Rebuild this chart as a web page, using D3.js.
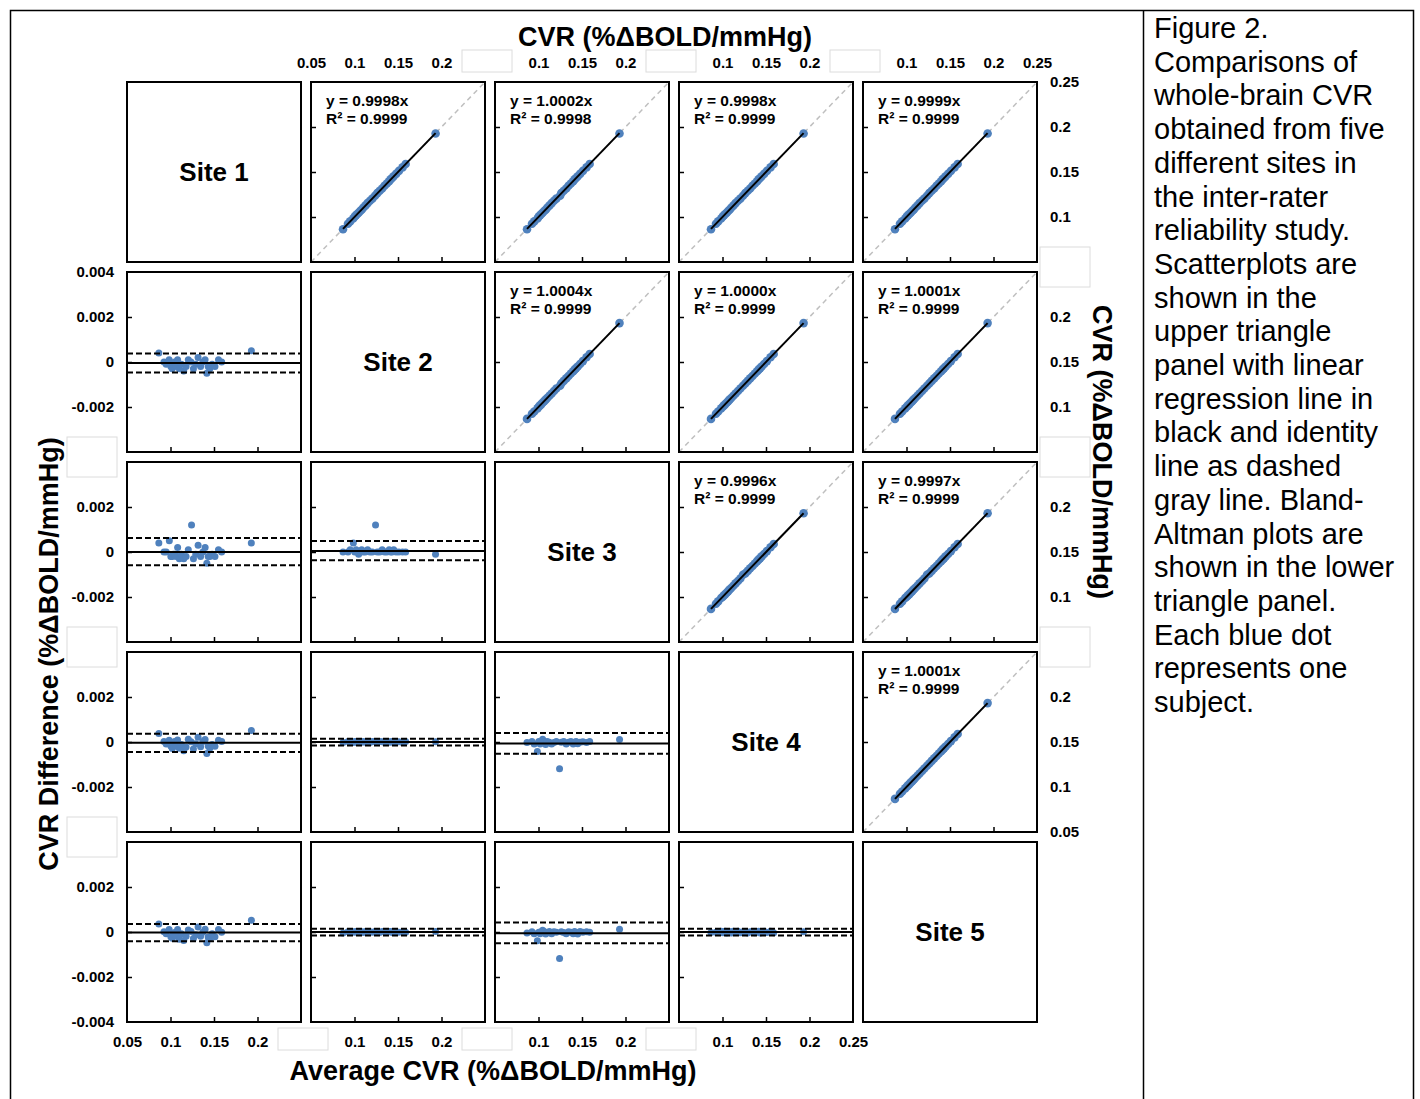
<!DOCTYPE html>
<html>
<head>
<meta charset="utf-8">
<script src="https://cdn.jsdelivr.net/npm/d3@7"></script>
<style>
  body { margin: 0; background: #fff; }
  svg { display: block; font-family: "Liberation Sans", Arial, sans-serif; }
</style>
</head>
<body>
<svg id="fig" width="1420" height="1099"></svg>
<script>
// Whole-brain CVR (%ΔBOLD/mmHg) for each subject, one array per site
const site1 = [0.0864, 0.0925, 0.0951, 0.0984, 0.1005, 0.1021, 0.1033, 0.1048, 0.1067, 0.1081,
               0.1103, 0.1126, 0.1154, 0.1180, 0.1204, 0.1236, 0.1265, 0.1291, 0.1316, 0.1347,
               0.1372, 0.1397, 0.1420, 0.1434, 0.1453, 0.1479, 0.1512, 0.1551, 0.1588, 0.1927];
const site2 = [0.0868, 0.0925, 0.0950, 0.0985, 0.1003, 0.1018, 0.1032, 0.1048, 0.1065, 0.1082,
               0.1100, 0.1125, 0.1150, 0.1178, 0.1205, 0.1236, 0.1262, 0.1290, 0.1318, 0.1345,
               0.1372, 0.1398, 0.1415, 0.1432, 0.1450, 0.1478, 0.1510, 0.1552, 0.1588, 0.1932];
const site3 = [0.0868, 0.0925, 0.0951, 0.0989, 0.1003, 0.1019, 0.1032, 0.1047, 0.1065, 0.1083,
               0.1100, 0.1125, 0.1151, 0.1178, 0.1205, 0.1248, 0.1262, 0.1290, 0.1319, 0.1345,
               0.1372, 0.1399, 0.1415, 0.1432, 0.1451, 0.1478, 0.1510, 0.1552, 0.1588, 0.1931];
const site4 = [0.08678, 0.09252, 0.09501, 0.09848, 0.10032, 0.10181, 0.10318, 0.10482, 0.10651, 0.10819,
               0.11002, 0.11249, 0.11501, 0.11778, 0.12052, 0.12361, 0.12619, 0.12902, 0.13181, 0.13449,
               0.13722, 0.13981, 0.14149, 0.14322, 0.14502, 0.14779, 0.15101, 0.15518, 0.15882, 0.19321];
const site5 = [0.08676, 0.09251, 0.09502, 0.09851, 0.10029, 0.10182, 0.10321, 0.10478, 0.10652, 0.10821,
               0.10998, 0.11252, 0.11502, 0.11781, 0.12049, 0.12362, 0.12621, 0.12898, 0.13182, 0.13451,
               0.13719, 0.13982, 0.14152, 0.14318, 0.14501, 0.14782, 0.15099, 0.15521, 0.15879, 0.19322];
const sites = [site1, site2, site3, site4, site5];
const siteNames = ["Site 1", "Site 2", "Site 3", "Site 4", "Site 5"];

// Upper triangle: regression through origin, [row, col]
const fitPairs  = [[0,1],[0,2],[0,3],[0,4],[1,2],[1,3],[1,4],[2,3],[2,4],[3,4]];
const fitSlopes = ["0.9998","1.0002","0.9998","0.9999","1.0004","1.0000","1.0001","0.9996","0.9997","1.0001"];
const fitR2     = ["0.9999","0.9998","0.9999","0.9999","0.9999","0.9999","0.9999","0.9999","0.9999","0.9999"];

// Lower triangle: Bland-Altman bias and limits of agreement, [row, col]
const baPairs = [[1,0],[2,0],[2,1],[3,0],[3,1],[3,2],[4,0],[4,1],[4,2],[4,3]];
const baBias  = [-0.00004, 0.00000, 0.00004, -0.00003, 0.00000, -0.00007, -0.00002, 0.00000, -0.00005, 0.00000];
const baUpper = [0.00038, 0.00062, 0.00049, 0.00037, 0.00015, 0.00040, 0.00036, 0.00015, 0.00042, 0.00015];
const baLower = [-0.00047, -0.00059, -0.00037, -0.00044, -0.00015, -0.00052, -0.00041, -0.00015, -0.00050, -0.00015];

// Tick values (outer labels: first, middle and last panel of a strip)
const cvrFirst = [0.05, 0.1, 0.15, 0.2];
const cvrMid   = [0.1, 0.15, 0.2];
const cvrLast  = [0.1, 0.15, 0.2, 0.25];
const cvrInner = [0.1, 0.15, 0.2];
const diffFirst = [-0.002, 0, 0.002, 0.004];
const diffMid   = [-0.002, 0, 0.002];
const diffLast  = [-0.004, -0.002, 0, 0.002];
const diffInner = [-0.002, 0, 0.002];

const captionLines = ["Figure 2.", "Comparisons of", "whole-brain CVR", "obtained from five",
  "different sites in", "the inter-rater", "reliability study.", "Scatterplots are",
  "shown in the", "upper triangle", "panel with linear", "regression line in",
  "black and identity", "line as dashed", "gray line. Bland-", "Altman plots are",
  "shown in the lower", "triangle panel.", "Each blue dot", "represents one", "subject."];

// Layout
const p_left = 127, p_top = 82, p_stepX = 184, p_stepY = 190, p_w = 174, p_h = 180;
const blue = "#4f81bd";

const svg = d3.select("#fig");
const x  = d3.scaleLinear().domain([0.05, 0.25]).range([0, p_w]);
const yS = d3.scaleLinear().domain([0.05, 0.25]).range([p_h, 0]);
const yD = d3.scaleLinear().domain([-0.004, 0.004]).range([p_h, 0]);

// frame and divider
svg.append("rect").attr("x", 10.5).attr("y", 10.5).attr("width", 1403).attr("height", 1120)
  .attr("fill", "none").attr("stroke", "#000").attr("stroke-width", 1.5);
svg.append("line").attr("x1", 1143.5).attr("x2", 1143.5).attr("y1", 10).attr("y2", 1099)
  .attr("stroke", "#000").attr("stroke-width", 1.5);

function panelPos(r, c) { return [p_left + c * p_stepX, p_top + r * p_stepY]; }

function innerTicks(g, yScale, yVals) {
  g.append("g").call(d3.axisLeft(yScale).tickValues(yVals).tickSize(-5).tickFormat(""))
    .call(a => a.select(".domain").remove())
    .selectAll("line").attr("stroke", "#000").attr("stroke-width", 1.5);
  g.append("g").attr("transform", `translate(0,${p_h})`)
    .call(d3.axisBottom(x).tickValues(cvrInner).tickSize(-5).tickFormat(""))
    .call(a => a.select(".domain").remove())
    .selectAll("line").attr("stroke", "#000").attr("stroke-width", 1.5);
}

// diagonal labels
siteNames.forEach((name, i) => {
  const [px, py] = panelPos(i, i);
  svg.append("text").attr("x", px + p_w / 2).attr("y", py + p_h / 2).attr("dy", "0.35em")
    .attr("text-anchor", "middle").style("font-size", "26px").style("font-weight", "bold")
    .text(name);
});

// scatterplots
fitPairs.forEach(([r, c], i) => {
  const [px, py] = panelPos(r, c);
  const g = svg.append("g").attr("transform", `translate(${px},${py})`);
  const xs = sites[c], ys = sites[r];
  const slope = +fitSlopes[i];

  g.append("line").attr("x1", x(0.05)).attr("y1", yS(0.05)).attr("x2", x(0.25)).attr("y2", yS(0.25))
    .attr("stroke", "#bfbfbf").attr("stroke-width", 1.5).attr("stroke-dasharray", "5,4");

  innerTicks(g, yS, cvrInner);

  g.selectAll("circle").data(xs).enter().append("circle")
    .attr("cx", d => x(d)).attr("cy", (d, k) => yS(ys[k])).attr("r", 4.3).attr("fill", blue);

  const [x0, x1] = d3.extent(xs);
  g.append("line").attr("x1", x(x0)).attr("y1", yS(slope * x0)).attr("x2", x(x1)).attr("y2", yS(slope * x1))
    .attr("stroke", "#000").attr("stroke-width", 2);

  g.append("text").attr("x", 15).attr("y", 24).style("font-size", "15.5px").style("font-weight", "bold")
    .text(`y = ${fitSlopes[i]}x`);
  g.append("text").attr("x", 15).attr("y", 42).style("font-size", "15.5px").style("font-weight", "bold")
    .text(`R² = ${fitR2[i]}`);
});

// Bland-Altman plots
baPairs.forEach(([r, c], i) => {
  const [px, py] = panelPos(r, c);
  const g = svg.append("g").attr("transform", `translate(${px},${py})`);
  const a = sites[r], b = sites[c];

  innerTicks(g, yD, diffInner);

  g.selectAll("circle").data(a).enter().append("circle")
    .attr("cx", (d, k) => x((d + b[k]) / 2)).attr("cy", (d, k) => yD(d - b[k]))
    .attr("r", 3.5).attr("fill", blue);

  g.append("line").attr("x1", 0).attr("x2", p_w).attr("y1", yD(baBias[i])).attr("y2", yD(baBias[i]))
    .attr("stroke", "#000").attr("stroke-width", 2);
  [baUpper[i], baLower[i]].forEach(v => {
    g.append("line").attr("x1", 0).attr("x2", p_w).attr("y1", yD(v)).attr("y2", yD(v))
      .attr("stroke", "#000").attr("stroke-width", 2).attr("stroke-dasharray", "6,3");
  });
});

// panel borders
for (let r = 0; r < 5; r++) {
  for (let c = 0; c < 5; c++) {
    const [px, py] = panelPos(r, c);
    svg.append("rect").attr("x", px).attr("y", py).attr("width", p_w).attr("height", p_h)
      .attr("fill", "none").attr("stroke", "#000").attr("stroke-width", 2);
  }
}

// outer tick labels
function styleLabels(a) {
  a.select(".domain").remove();
  a.selectAll("text").attr("fill", "#000").style("font-size", "15px").style("font-weight", "bold")
    .style("font-family", "'Liberation Sans', Arial, sans-serif");
}
const fmt = d => String(d);
const pick = (k, first, mid, last) => k === 0 ? first : (k === 3 ? last : mid);
for (let k = 0; k < 4; k++) {
  const [px] = panelPos(0, k + 1);
  svg.append("g").attr("transform", `translate(${px},${p_top})`)
    .call(d3.axisTop(x).tickValues(pick(k, cvrFirst, cvrMid, cvrLast)).tickSize(0).tickPadding(14).tickFormat(fmt))
    .call(styleLabels);
}
for (let k = 0; k < 4; k++) {
  const [px, py] = panelPos(4, k);
  svg.append("g").attr("transform", `translate(${px},${py + p_h})`)
    .call(d3.axisBottom(x).tickValues(pick(k, cvrFirst, cvrMid, cvrLast)).tickSize(0).tickPadding(14).tickFormat(fmt))
    .call(styleLabels);
}
for (let k = 0; k < 4; k++) {
  const [px, py] = panelPos(k + 1, 0);
  svg.append("g").attr("transform", `translate(${px},${py})`)
    .call(d3.axisLeft(yD).tickValues(pick(k, diffFirst, diffMid, diffLast)).tickSize(0).tickPadding(13).tickFormat(fmt))
    .call(styleLabels);
}
for (let k = 0; k < 4; k++) {
  const [px, py] = panelPos(k, 4);
  const vals = k === 0 ? [0.1, 0.15, 0.2, 0.25] : (k === 3 ? [0.05, 0.1, 0.15, 0.2] : cvrMid);
  svg.append("g").attr("transform", `translate(${px + p_w},${py})`)
    .call(d3.axisRight(yS).tickValues(vals).tickSize(0).tickPadding(13).tickFormat(fmt))
    .call(styleLabels);
}

// blank boxes between the label strips
const boxes = svg.append("g");
function blankBox(cx, cy, w, h) {
  boxes.append("rect").attr("x", cx - w / 2).attr("y", cy - h / 2).attr("width", w).attr("height", h)
    .attr("fill", "#fff").attr("stroke", "#dcdcdc").attr("stroke-width", 1);
}
for (let c = 1; c < 4; c++) blankBox(p_left + c * p_stepX + p_w + 2, 61, 50, 22);
for (let c = 0; c < 3; c++) blankBox(p_left + c * p_stepX + p_w + 2, 1039, 50, 22);
for (let r = 1; r < 4; r++) blankBox(92, p_top + r * p_stepY + p_h + 5, 50, 40);
for (let r = 0; r < 3; r++) blankBox(1065, p_top + r * p_stepY + p_h + 5, 50, 40);

// axis titles
const titleStyle = s => s.style("font-size", "27px").style("font-weight", "bold").attr("text-anchor", "middle");
svg.append("text").attr("x", 665).attr("y", 46).call(titleStyle).text("CVR (%ΔBOLD/mmHg)");
svg.append("text").attr("x", 493).attr("y", 1080).call(titleStyle).text("Average CVR (%ΔBOLD/mmHg)");
svg.append("text").attr("transform", "translate(58,654) rotate(-90)").call(titleStyle)
  .text("CVR Difference (%ΔBOLD/mmHg)");
svg.append("text").attr("transform", "translate(1093,452) rotate(90)").call(titleStyle)
  .text("CVR (%ΔBOLD/mmHg)");

// caption
svg.append("g").selectAll("text").data(captionLines).enter().append("text")
  .attr("x", 1154).attr("y", (d, i) => 38 + i * 33.7)
  .style("font-size", "29px").text(d => d);
</script>
</body>
</html>
